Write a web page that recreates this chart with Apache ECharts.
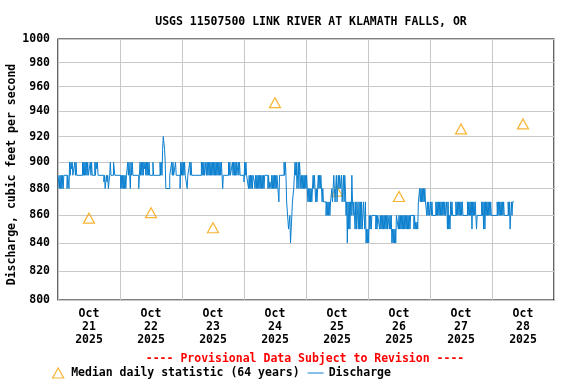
<!DOCTYPE html>
<html>
<head>
<meta charset="utf-8">
<script src="https://cdn.jsdelivr.net/npm/echarts@6/dist/echarts.min.js"></script>
<style>html,body{margin:0;padding:0;background:#fff}#c{width:576px;height:384px}</style>
</head>
<body>
<div id="c"></div>
<script>
// hours since 2025-10-21 00:00 ; day labels
const dayLabels = ['21','22','23','24','25','26','27','28'];
const yTicks = [800,820,840,860,880,900,920,940,960,980,1000];
// Median daily statistic (64 years), at noon of each day
const medianHours = [12,36,60,84,108,132,156,180];
const medianValues = [858,862,851,947,878,874,926,930];
// Discharge change points [hour, cfs] (value holds until next point)
const discharge = [
[0,890],[0.5,880],[0.75,890],[1,880],[1.25,890],[1.5,880],[1.75,890],[2,880],[2.25,890],
[3.5,880],[3.75,890],[4.25,880],[4.5,900],[4.75,890],[5,900],[5.25,895],[5.5,900],[5.75,890],
[6.5,900],[6.75,890],[7,900],[7.25,890],
[9.5,900],[9.75,890],[10,900],[10.25,890],[10.5,900],[10.75,890],[11,900],[11.25,890],[11.5,900],[11.75,890],
[12.5,900],[12.75,890],[13,900],[13.25,890],
[14.25,900],[14.5,890],[14.75,900],[15,895],[15.25,900],[15.5,890],
[17.75,885],[18,890],[18.25,880],[18.5,885],[18.75,890],[19,885],[19.25,890],[19.5,880],[19.75,885],[20,890],
[20.25,900],[20.5,890],[21.5,900],[21.75,895],[22,890],
[24.25,880],[24.5,890],[24.75,880],[25,890],[25.25,880],[25.5,890],[25.75,880],[26,890],[26.25,880],[26.5,890],
[27,900],[27.25,890],[27.5,900],[27.75,890],[28,880],[28.25,900],[28.5,890],[28.75,900],[29,890],
[31.25,880],[31.5,890],
[31.75,900],[32,890],[32.25,900],[32.5,890],[32.75,900],[33,890],[33.25,900],[33.5,895],[33.75,900],[34,890],[34.25,900],[34.5,890],[34.75,900],[35,890],[35.25,900],[35.5,890],
[36.75,900],[37,890],
[39.5,900],[39.75,890],[40,900],[40.25,890],
[40.5,910],[40.75,920],[41.25,910],[41.5,900],[41.75,880],[43.25,890],
[44,900],[44.25,890],[44.5,900],[44.75,890],[45.5,900],[45.75,890],
[47.25,880],[47.5,900],[47.75,890],[48,900],[48.25,890],[48.5,900],[48.75,890],[49,900],[49.25,890],
[50,880],[50.25,890],
[51,900],[51.25,890],[51.5,900],[51.75,890],
[55.5,900],[55.75,890],[56,900],[56.25,890],[56.5,900],[56.75,890],
[57.25,900],[57.5,890],[57.75,900],[58,890],[58.25,900],[58.5,890],[58.75,900],[59,890],[59.25,900],[59.5,890],[59.75,900],[60,890],[60.25,900],[60.5,890],[60.75,900],[61,890],[61.25,900],[61.5,890],[61.75,900],[62,890],[62.25,900],[62.5,890],[62.75,900],[63,890],[63.25,900],[63.5,890],
[63.75,880],[64,890],
[66,900],[66.25,890],[66.5,900],[66.75,890],
[67.5,900],[67.75,890],[68,900],[68.25,890],[68.5,900],[68.75,890],[69,900],[69.25,890],
[69.75,900],[70,890],[70.25,900],[70.5,890],
[72,885],[72.25,900],[72.5,890],[72.75,900],[73,890],
[73.75,880],[74,890],[74.25,880],[74.5,890],[74.75,880],[75,890],[75.25,880],[75.5,890],
[76,885],[76.25,880],[76.5,890],[76.75,880],[77,890],[77.25,880],[77.5,890],[77.75,880],[78,890],[78.25,880],[78.5,890],[78.75,880],[79,890],[79.25,880],[79.5,890],[79.75,880],[80,890],
[81.25,880],[81.5,890],[81.75,880],[82,885],
[82.5,880],[82.75,890],[83,880],[83.25,890],[83.5,880],[83.75,890],[84,880],[84.25,890],[84.5,880],[84.75,890],
[85.5,870],[85.75,890],
[87.5,900],[87.75,890],[88,900],[88.25,890],
[88.5,870],[89.25,850],[89.75,860],[90,840],[90.75,870],[91.25,880],[91.5,890],
[91.75,900],[92,890],[92.25,900],[92.5,880],[92.75,890],[93,900],[93.25,880],[93.5,900],[93.75,890],
[94,880],[94.25,890],[94.5,880],[94.75,890],[95,880],[95.25,890],[95.5,880],[95.75,890],[96,880],[96.25,890],[96.5,880],
[96.75,870],[97,880],[97.25,870],[97.5,880],[97.75,870],[98,880],[98.25,870],[98.5,880],[98.75,890],[99,880],[99.25,890],[99.5,880],
[99.75,870],[100,880],[100.25,870],[100.5,880],
[100.75,890],[101,880],[101.25,890],[101.5,880],[101.75,890],[102,880],
[102.25,870],[102.5,880],[102.75,870],
[103.75,860],[104,870],[104.25,860],[104.5,870],[104.75,860],[105,870],[105.25,860],[105.5,870],
[106,880],[106.25,870],[106.5,880],[106.75,890],[107,880],[107.25,870],[107.5,880],[107.75,890],[108,870],[108.25,880],[108.5,890],[108.75,880],[109,890],[109.25,880],
[109.75,890],[110,870],[110.25,880],[110.5,890],[110.75,870],[111,890],[111.25,880],[111.5,860],[111.75,870],
[112,840],[112.25,870],[112.5,850],[112.75,870],[113,850],[113.25,870],[113.5,860],[113.75,890],[114,870],
[114.25,860],[114.5,870],[114.75,860],
[115,850],[115.25,870],[115.5,850],[115.75,870],[116,860],
[116.25,850],[116.5,870],[116.75,850],[117,870],[117.25,850],[117.5,870],[117.75,850],[118,860],
[118.25,870],[118.5,860],[118.75,850],[119,870],
[119.25,840],[119.5,850],[119.75,840],[120,850],[120.25,840],[120.5,860],
[120.75,850],[121,860],[121.25,850],[121.5,860],
[123,850],[123.25,860],[123.5,850],[123.75,860],
[124.5,850],[124.75,860],[125,850],[125.25,860],[125.5,850],[125.75,860],[126,850],[126.25,860],[126.5,850],[126.75,860],[127,850],[127.25,860],[127.5,850],[127.75,860],
[128.25,850],[128.5,860],[128.75,850],[129,860],
[129.25,840],[129.5,850],[129.75,840],[130,850],[130.25,840],[130.5,850],[130.75,840],[131,860],
[131.75,850],[132,860],[132.25,850],[132.5,860],[132.75,850],[133,860],[133.25,850],[133.5,860],[133.75,850],[134,860],[134.25,850],[134.5,860],[134.75,850],[135,860],[135.25,850],[135.5,860],[135.75,850],[136,860],[136.25,850],[136.5,860],
[137.75,850],[138,860],[138.25,850],[138.5,855],[138.75,850],[139,855],[139.25,850],[139.5,870],
[140,880],[140.25,870],[140.5,880],[140.75,870],[141,880],[141.25,870],[141.5,880],[141.75,870],[142,880],[142.25,870],
[142.75,860],
[143,870],[143.25,860],[143.5,870],[143.75,860],
[144.25,870],[144.5,860],[144.75,870],[145,860],
[146.25,870],[146.5,860],[146.75,870],[147,860],[147.25,870],[147.5,860],[147.75,870],[148,860],[148.25,870],[148.5,860],[148.75,870],[149,860],[149.25,870],[149.5,860],[149.75,870],[150,860],
[150.5,870],[150.75,850],[151,870],[151.25,850],[151.5,860],[151.75,850],[152,870],[152.25,860],[152.5,870],[152.75,860],
[154,870],[154.25,860],[154.5,870],[154.75,860],[155,870],[155.25,860],[155.5,870],[155.75,860],[156,870],[156.25,860],[156.5,870],[156.75,860],
[158.5,870],[158.75,860],[159,870],[159.25,860],[159.5,870],[159.75,860],[160,870],[160.25,850],[160.5,870],[160.75,860],[161,870],[161.25,860],[161.5,870],[161.75,860],[162,850],[162.25,860],
[164,870],[164.25,860],[164.5,870],[164.75,850],[165,870],[165.25,850],[165.5,870],[165.75,860],[166,870],[166.25,860],[166.5,870],[166.75,860],[167,870],[167.25,860],[167.5,870],[167.75,860],
[170,870],[170.25,860],[170.5,870],[170.75,860],[171,870],[171.25,860],[171.5,870],[171.75,860],[172,870],[172.25,860],[172.5,870],[172.75,860],
[174.25,870],[174.5,860],[174.75,870],[175,850],[175.25,860],[175.5,870],[175.75,860],[176,870],[176.5,870]
];

const FONT = '"DejaVu Sans Mono", monospace';
const chart = echarts.init(document.getElementById('c'), null, {renderer: 'canvas'});
chart.setOption({
  animation: false,
  backgroundColor: '#ffffff',
  title: {
    text: 'USGS 11507500 LINK RIVER AT KLAMATH FALLS, OR',
    left: 306, top: 11, textAlign: 'center',
    textStyle: {fontFamily: FONT, fontWeight: 'bold', fontSize: 11.5, color: '#000'}
  },
  grid: {left: 58, right: 22, top: 39, bottom: 84, containLabel: false, outerBoundsMode: 'none',
    show: true, borderColor: '#000', borderWidth: 1.2, backgroundColor: 'transparent'},
  legend: {
    left: 52, top: 367, itemWidth: 16, itemHeight: 10, itemGap: 8, padding: 0,
    symbolKeepAspect: true,
    textStyle: {fontFamily: FONT, fontWeight: 'bold', fontSize: 11.5, color: '#000'},
    data: [
      {name: 'Median daily statistic (64 years)', icon: 'path://M5,0 L10,9 L0,9 Z',
       itemStyle: {color: 'transparent', borderColor: '#f5a000', borderWidth: 1.2}},
      {name: 'Discharge', icon: 'path://M0,0 L16,0 L16,1 L0,1 Z',
       itemStyle: {color: '#0a7fcf', borderWidth: 0}}
    ]
  },
  graphic: [{
    type: 'text', x: 305, y: 353,
    style: {text: '---- Provisional Data Subject to Revision ----', fill: '#ff0000', align: 'center',
      font: 'bold 11.5px "DejaVu Sans Mono", monospace'}
  }],
  xAxis: {
    type: 'value', min: 0, max: 192, interval: 24,
    axisLine: {show: false}, axisTick: {show: false},
    splitLine: {show: true, lineStyle: {color: '#c8c8c8', width: 1}},
    axisLabel: {
      customValues: medianHours, margin: 8, lineHeight: 13,
      fontFamily: FONT, fontWeight: 'bold', fontSize: 11.5, color: '#000',
      formatter: v => 'Oct\n' + dayLabels[Math.floor(v / 24)] + '\n2025'
    }
  },
  yAxis: {
    type: 'log', min: 800, max: 1000, logBase: 10,
    name: 'Discharge, cubic feet per second', nameLocation: 'middle', nameGap: 40, nameRotate: 90,
    nameMoveOverlap: false,
    nameTextStyle: {fontFamily: FONT, fontWeight: 'bold', fontSize: 11.5, color: '#000', padding: [0, 10, 0, 0]},
    axisLine: {show: false},
    axisTick: {show: false, customValues: yTicks},
    splitLine: {show: true, lineStyle: {color: '#c8c8c8', width: 1}},
    axisLabel: {customValues: yTicks, margin: 8, fontFamily: FONT, fontWeight: 'bold', fontSize: 11.5, color: '#000',
      formatter: v => String(Math.round(v))}
  },
  series: [
    {
      name: 'Median daily statistic (64 years)', type: 'scatter', z: 1,
      symbol: 'triangle', symbolSize: [11, 10],
      itemStyle: {color: 'transparent', borderColor: '#f5a000', borderWidth: 1.2},
      data: medianHours.map((h, i) => [h, medianValues[i]])
    },
    {
      name: 'Discharge', type: 'line', step: 'end', z: 2, showSymbol: false, symbol: 'none',
      lineStyle: {color: '#0a7fcf', width: 1}, itemStyle: {color: '#0a7fcf'},
      data: discharge
    }
  ]
});
</script>
</body>
</html>
